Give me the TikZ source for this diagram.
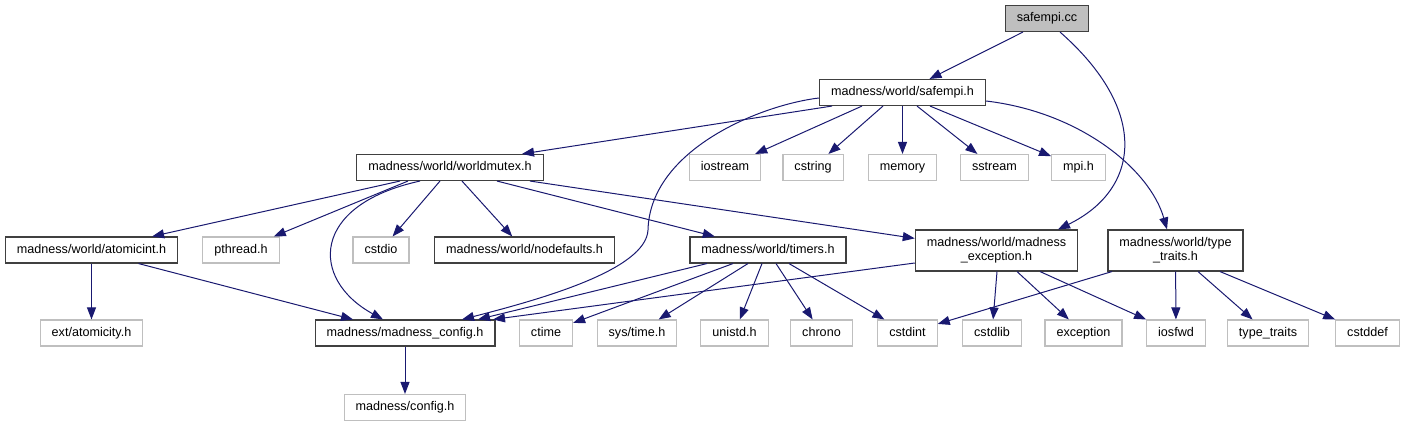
\documentclass[tikz,border=0pt]{standalone}
\usepackage{fontspec}
\setmainfont{Liberation Sans}
\usetikzlibrary{arrows.meta}

\definecolor{edgeblue}{HTML}{191970}
\definecolor{boxline}{HTML}{404040}
\definecolor{sysline}{HTML}{BFBFBF}

\begin{document}
\begin{tikzpicture}[
    x=1pt, y=-1pt,
    every node/.style={
        font=\fontsize{12.6}{14.5}\selectfont,
        inner xsep=11.5pt,
        inner ysep=0pt,
        text height=9.5pt,
        text depth=3pt,
        minimum height=26pt,
        align=center
    },
    hdr/.style={draw=boxline, line width=1.1pt},
    sys/.style={draw=sysline, line width=1.1pt},
    root/.style={hdr, fill=sysline},
    twoline/.style={text height=24pt, text depth=3pt, minimum height=41pt},
    arrow/.style={-{Triangle[length=12pt, width=9pt]}, draw=edgeblue, line width=1pt}
]
\useasboundingbox (0,0) rectangle (1405,427);

% --- Top
\node[root] (safempicc) at (1047,18.5) {safempi.cc};
\node[hdr] (safempih) at (902.5,92.5) {madness/world/safempi.h};

% --- Second row
\node[hdr] (worldmutex) at (450,167.5) {madness/world/worldmutex.h};
\node[sys] (iostream) at (725,167.5) {iostream};
\node[sys] (cstring) at (813,167.5) {cstring};
\node[sys] (memory) at (902.5,167.5) {memory};
\node[sys] (sstream) at (994.5,167.5) {sstream};
\node[sys] (mpih) at (1078.5,167.5) {mpi.h};

% --- Third row
\node[hdr] (atomicint) at (91.5,250) {madness/world/atomicint.h};
\node[sys] (pthread) at (241,250) {pthread.h};
\node[sys] (cstdio) at (381,250) {cstdio};
\node[hdr] (nodefaults) at (524.5,250) {madness/world/nodefaults.h};
\node[hdr] (timers) at (768,250) {madness/world/timers.h};
\node[hdr, twoline] (mexcept) at (996.5,250.5) {madness/world/madness\\\_exception.h};
\node[hdr, twoline] (typetraitsh) at (1175.5,250.5) {madness/world/type\\\_traits.h};

% --- Fourth row
\node[sys] (atomicity) at (91.5,333) {ext/atomicity.h};
\node[hdr] (mconfig) at (405,333) {madness/madness\_config.h};
\node[sys] (ctime) at (546,333) {ctime};
\node[sys] (systime) at (637,333) {sys/time.h};
\node[sys] (unistd) at (734.5,333) {unistd.h};
\node[sys] (chrono) at (821.5,333) {chrono};
\node[sys] (cstdint) at (907.5,333) {cstdint};
\node[sys] (cstdlib) at (992,333) {cstdlib};
\node[sys] (exception) at (1083.5,333) {exception};
\node[sys] (iosfwd) at (1176,333) {iosfwd};
\node[sys] (typetraits) at (1268,333) {type\_traits};
\node[sys] (cstddef) at (1367.5,333) {cstddef};

% --- Bottom
\node[sys] (config) at (405,407.5) {madness/config.h};

% --- Arrows from safempi.cc
\draw[arrow] ([xshift=-24pt]safempicc.south) -- (safempih);
\draw[arrow] ([xshift=13pt]safempicc.south) .. controls +(90,79) and +(82,-40) .. ([xshift=61.5pt]mexcept.north);

% --- Arrows from safempi.h
\draw[arrow] ([xshift=-70.5pt]safempih.south) -- ([xshift=72pt]worldmutex.north);
\draw[arrow] ([yshift=-5.5pt]safempih.west) .. controls +(-59,7) and +(2,-80) .. (648,230)
    .. controls +(-2,40) and +(78,-20) .. ([xshift=57pt]mconfig.north);
\draw[arrow] ([xshift=-40.5pt]safempih.south) -- (iostream);
\draw[arrow] ([xshift=-19.5pt]safempih.south) -- (cstring);
\draw[arrow] (safempih) -- (memory);
\draw[arrow] ([xshift=14.5pt]safempih.south) -- (sstream);
\draw[arrow] ([xshift=27.5pt]safempih.south) -- (mpih);
\draw[arrow] ([yshift=-8.5pt]safempih.east) .. controls +(94,11) and +(-17,-60) .. ([xshift=-8.5pt]typetraitsh.north);

% --- Arrows from worldmutex.h
\draw[arrow] ([xshift=-50pt]worldmutex.south) -- (atomicint);
\draw[arrow] ([xshift=-42pt]worldmutex.south) -- (pthread);
\draw[arrow] ([xshift=-30pt]worldmutex.south) .. controls +(-110,24) and +(-73,-40) .. ([xshift=-22pt]mconfig.north);
\draw[arrow] ([xshift=-10pt]worldmutex.south) -- (cstdio);
\draw[arrow] ([xshift=12pt]worldmutex.south) -- (nodefaults);
\draw[arrow] ([xshift=47pt]worldmutex.south) -- (timers);
\draw[arrow] ([xshift=80pt]worldmutex.south) -- (mexcept);

% --- Arrows from atomicint.h
\draw[arrow] (atomicint) -- (atomicity);
\draw[arrow] ([xshift=47pt]atomicint.south) -- (mconfig);

% --- Arrows from timers.h
\draw[arrow] ([xshift=-61pt]timers.south) -- ([xshift=73pt]mconfig.north);
\draw[arrow] ([xshift=-35pt]timers.south) -- (ctime);
\draw[arrow] ([xshift=-20pt]timers.south) -- (systime);
\draw[arrow] ([xshift=-6pt]timers.south) -- (unistd);
\draw[arrow] ([xshift=8pt]timers.south) -- (chrono);
\draw[arrow] ([xshift=21pt]timers.south) -- (cstdint);

% --- Arrows from madness_exception.h
\draw[arrow] ([yshift=-12.5pt]mexcept.west) -- ([xshift=88pt]mconfig.north);
\draw[arrow] ([xshift=0.5pt]mexcept.south) -- (cstdlib);
\draw[arrow] ([xshift=20.5pt]mexcept.south) -- (exception);
\draw[arrow] ([xshift=43.5pt]mexcept.south) -- (iosfwd);

% --- Arrows from type_traits.h
\draw[arrow] ([xshift=-63.5pt]typetraitsh.south) -- (cstdint);
\draw[arrow] (typetraitsh) -- (iosfwd);
\draw[arrow] ([xshift=22.5pt]typetraitsh.south) -- (typetraits);
\draw[arrow] ([xshift=44.5pt]typetraitsh.south) -- (cstddef);

% --- Arrow from madness_config.h
\draw[arrow] (mconfig) -- (config);

\end{tikzpicture}
\end{document}
